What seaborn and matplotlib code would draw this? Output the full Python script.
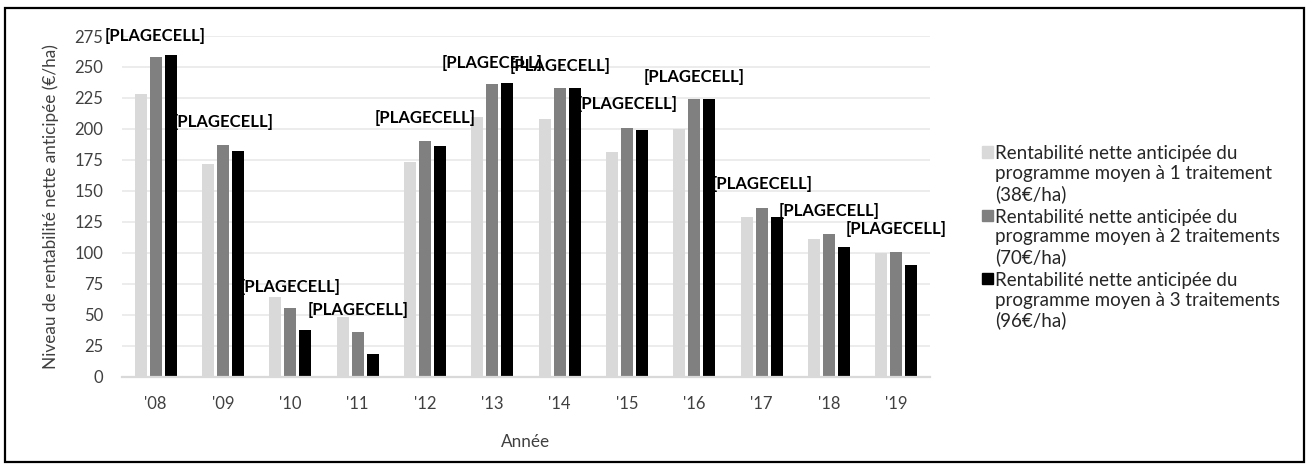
import matplotlib
matplotlib.use("Agg")
import matplotlib.pyplot as plt
import matplotlib.patches as mpatches
from matplotlib.legend_handler import HandlerPatch
import pandas as pd
import seaborn as sns

# ---- data -------------------------------------------------------------
years = ["'08", "'09", "'10", "'11", "'12", "'13", "'14", "'15", "'16", "'17", "'18", "'19"]
prog_1 = [228, 172, 64, 48, 173, 210, 208, 181, 200, 129, 111, 100]
prog_2 = [258, 187, 55, 36, 190, 236, 233, 201, 224, 136, 115, 101]
prog_3 = [260, 182, 38, 18, 186, 237, 233, 199, 224, 129, 105, 90]
series_names = [
    "Rentabilité nette anticipée du\nprogramme moyen à 1 traitement\n(38€/ha)",
    "Rentabilité nette anticipée du\nprogramme moyen à 2 traitements\n(70€/ha)",
    "Rentabilité nette anticipée du\nprogramme moyen à 3 traitements\n(96€/ha)",
]
cell_labels = ["[PLAGECELL]"] * len(years)
y_ticks = [0, 25, 50, 75, 100, 125, 150, 175, 200, 225, 250, 275]

# ---- layout / style ---------------------------------------------------
label_lift = [14.6, 23.4, 34.3, 36.1, 22.9, 16.1, 17.5, 20.7, 17.9, 26.4, 28.9, 29.2]
colors = ["#d9d9d9", "#808080", "#000000"]
FONT = ["Lato", "DejaVu Sans"]
TXT = "#404040"

sns.set_theme(style="white")
plt.rcParams["font.family"] = FONT

df = pd.DataFrame({
    "Année": years * 3,
    "serie": sum([[n] * len(years) for n in series_names], []),
    "valeur": prog_1 + prog_2 + prog_3,
})

fig = plt.figure(figsize=(13.07, 4.70), dpi=100)
ax = fig.add_axes([0.0933, 0.1987, 0.6183, 0.7247])

sns.barplot(data=df, x="Année", y="valeur", hue="serie", order=years,
            hue_order=series_names, palette=colors, width=0.67, gap=0.2,
            linewidth=0, saturation=1, zorder=2, ax=ax)

ax.set_ylim(0, 275)
ax.set_xlim(-0.5, 11.5)
ax.set_yticks(y_ticks)
ax.yaxis.grid(True, color="#ececec", linewidth=1.4)
ax.set_axisbelow(True)
for side in ["left", "right", "top"]:
    ax.spines[side].set_visible(False)
ax.spines["bottom"].set_color("#d9d9d9")
ax.spines["bottom"].set_linewidth(1.6)
ax.tick_params(axis="both", length=0, labelsize=12, colors=TXT)
ax.tick_params(axis="x", pad=14)
ax.tick_params(axis="y", pad=13.5)
ax.set_xlabel("Année", fontsize=12.3, color=TXT, labelpad=16)
ax.set_ylabel("Niveau de rentabilité nette anticipée (€/ha)", fontsize=12.3,
              color=TXT, labelpad=11)

# data-label placeholders above each year group
for i, (txt, v, lift) in enumerate(zip(cell_labels, prog_3, label_lift)):
    ax.text(i, v + lift, txt, ha="center", va="center", fontsize=12,
            fontweight="bold", color="#000000", zorder=3)


# legend squares aligned with the first line of each wrapped label
def top_square(legend, orig_handle, xdescent, ydescent, width, height, fontsize):
    return mpatches.Rectangle((-xdescent, -ydescent + 1.2 * fontsize), width, height)


handles = [mpatches.Patch(color=c, label=n) for c, n in zip(colors, series_names)]
leg = ax.legend(handles=handles, loc="upper left", bbox_to_anchor=(0.7442, 0.711),
                bbox_transform=fig.transFigure, frameon=False, borderpad=0,
                handlelength=0.56, handleheight=0.56, handletextpad=0.12,
                labelspacing=0.3, fontsize=13.5, labelcolor="#262626",
                handler_map={mpatches.Patch: HandlerPatch(patch_func=top_square)})

# outer frame
fig.patches.append(mpatches.Rectangle((0.004, 0.017), 0.9935, 0.966,
                                      transform=fig.transFigure, fill=False,
                                      edgecolor="#000000", linewidth=1.6))

fig.savefig("out.png", dpi=100)
